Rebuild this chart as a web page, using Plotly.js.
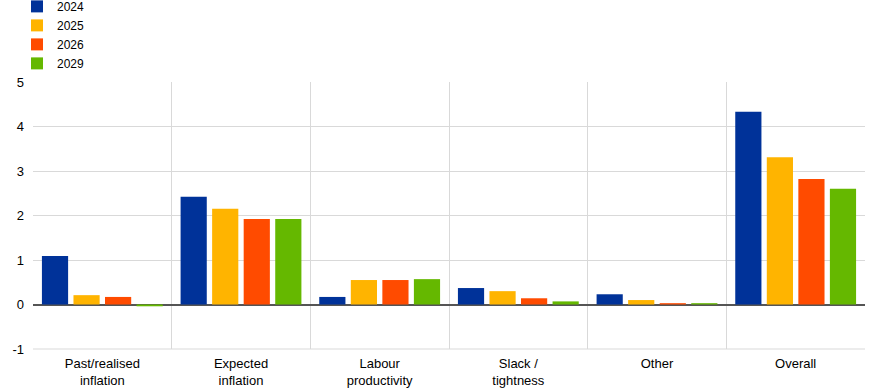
<!DOCTYPE html>
<html><head><meta charset="utf-8">
<script src="https://cdn.plot.ly/plotly-3.0.1.min.js"></script>
<style>html,body{margin:0;padding:0;background:#fff}#chart{width:874px;height:390px}</style>
</head><body><div id="chart"></div>
<script>
const categories = ["Past/realised<br>inflation", "Expected<br>inflation", "Labour<br>productivity", "Slack /<br>tightness", "Other", "Overall"];
const seriesNames = ["2024", "2025", "2026", "2029"];
const v2024 = [1.09, 2.42, 0.17, 0.37, 0.23, 4.33];
const v2025 = [0.21, 2.15, 0.55, 0.30, 0.10, 3.31];
const v2026 = [0.17, 1.92, 0.55, 0.14, 0.03, 2.82];
const v2029 = [-0.04, 1.92, 0.57, 0.07, 0.03, 2.60];
const colors = ["#003299", "#FFB400", "#FF4B00", "#65B800"];
const values = [v2024, v2025, v2026, v2029];
const yTicks = [-1, 0, 1, 2, 3, 4, 5];

const traces = values.map((v, i) => ({
  type: "bar", x: categories, y: v, name: seriesNames[i],
  marker: {color: colors[i], line: {width: 0}}, hoverinfo: "skip"
}));

const layout = {
  width: 874, height: 390,
  margin: {l: 33, r: 9, t: 82, b: 41, autoexpand: false},
  paper_bgcolor: "#fff", plot_bgcolor: "#fff",
  font: {family: "Liberation Sans, Arial, sans-serif", size: 13, color: "#000"},
  barmode: "group", bargap: 0.09, bargroupgap: 0.17,
  showlegend: true,
  legend: {x: -0.0192, y: 1.3375, xanchor: "left", yanchor: "top", orientation: "v",
           font: {size: 12}, tracegroupgap: 0, itemwidth: 30, bgcolor: "rgba(0,0,0,0)"},
  xaxis: {type: "category", tickson: "boundaries", showgrid: true, gridcolor: "#d9d9d9", gridwidth: 1,
          ticks: "", showline: false, zeroline: false, tickfont: {size: 13}, ticklabelstandoff: 5},
  yaxis: {range: [-1, 5], tickvals: yTicks, ticktext: yTicks.map(String), showgrid: true,
          gridcolor: "#d9d9d9", gridwidth: 1, zeroline: true, zerolinecolor: "#555555", zerolinewidth: 2,
          showline: false, ticks: "", ticklen: 0, tickfont: {size: 13}, ticklabelstandoff: 8},
  shapes: [{type: "line", xref: "paper", yref: "paper", x0: 0, x1: 1, y0: 0, y1: 0, line: {color: "#d9d9d9", width: 1}}]
};
Plotly.newPlot("chart", traces, layout, {displayModeBar: false, staticPlot: true});
</script></body></html>
